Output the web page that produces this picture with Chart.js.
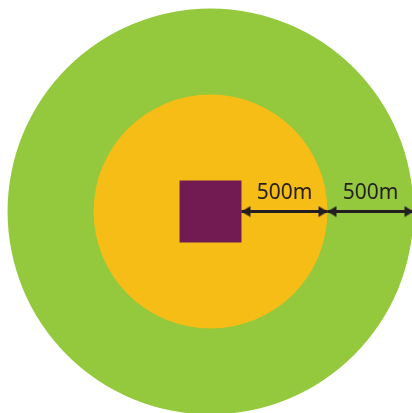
<!DOCTYPE html>
<html>
<head>
<meta charset="utf-8">
<script src="https://cdn.jsdelivr.net/npm/chart.js@4"></script>
<style>
  html, body { margin: 0; padding: 0; background: #fff; }
  #zonas { display: block; }
</style>
</head>
<body>
<canvas id="zonas" width="412" height="413"></canvas>
<script>
// distancias en metros
const siteHalf = 180;                 // medio lado del solar
const zoneWidths = [500, 500];        // anillos desde el borde del solar
const zoneLabels = ['500m', '500m'];
const zoneColors = ['#f6bd16', '#94c83d'];
const siteColor = '#721a52';
const ink = '#231f20';

const innerR = siteHalf + zoneWidths[0];
const outerR = innerR + zoneWidths[1];

// punta de flecha como imagen, con el vertice en el centro
function punta(dir) {
  const L = 10, H = 6;
  const c = document.createElement('canvas');
  c.width = L * 2; c.height = H * 2;
  const g = c.getContext('2d');
  g.fillStyle = ink;
  g.beginPath();
  if (dir > 0) { g.moveTo(L, H); g.lineTo(1, 0.5); g.lineTo(1, H * 2 - 0.5); }
  else { g.moveTo(L, H); g.lineTo(L * 2 - 1, 0.5); g.lineTo(L * 2 - 1, H * 2 - 0.5); }
  g.closePath();
  g.fill();
  return c;
}
const headL = punta(-1), headR = punta(1);

// radio en pixeles a partir de metros
const pxRadius = (r) => (ctx) => {
  const sx = ctx.chart.scales.x;
  return sx.getPixelForValue(r) - sx.getPixelForValue(0);
};

const etiquetas = {
  id: 'etiquetas',
  afterDatasetsDraw(chart) {
    const { ctx, scales } = chart;
    ctx.save();
    ctx.fillStyle = ink;
    ctx.font = '21px "Noto Sans", sans-serif';
    ctx.textAlign = 'center';
    ctx.textBaseline = 'alphabetic';
    let start = siteHalf;
    zoneWidths.forEach((w, i) => {
      const mid = scales.x.getPixelForValue(start + w / 2);
      const y = scales.y.getPixelForValue(0) - 13;
      ctx.fillText(zoneLabels[i], mid, y);
      start += w;
    });
    ctx.restore();
  }
};

let start = siteHalf;
const flechas = zoneWidths.map((w, i) => {
  const ds = {
    type: 'line',
    data: [{ x: start, y: 0 }, { x: start + w, y: 0 }],
    borderColor: ink,
    borderWidth: 3,
    pointStyle: [headL, headR],
    pointRadius: 6,
    clip: false,
    order: 0
  };
  start += w;
  return ds;
});

const ctx = document.getElementById('zonas').getContext('2d');

new Chart(ctx, {
  type: 'scatter',
  data: {
    datasets: [
      ...flechas,
      {
        data: [{ x: 0, y: 0 }],
        pointStyle: 'rect',
        pointRadius: (c) => pxRadius(siteHalf)(c) / Math.SQRT1_2,
        backgroundColor: siteColor,
        borderWidth: 0,
        clip: false,
        order: 1
      },
      {
        data: [{ x: 0, y: 0 }],
        pointStyle: 'circle',
        pointRadius: pxRadius(innerR),
        backgroundColor: zoneColors[0],
        borderWidth: 0,
        clip: false,
        order: 2
      },
      {
        data: [{ x: 0, y: 0 }],
        pointStyle: 'circle',
        pointRadius: pxRadius(outerR),
        backgroundColor: zoneColors[1],
        borderWidth: 0,
        clip: false,
        order: 3
      }
    ]
  },
  options: {
    responsive: false,
    animation: false,
    events: [],
    layout: { padding: 0, autoPadding: false },
    plugins: {
      legend: { display: false },
      tooltip: { enabled: false }
    },
    scales: {
      x: { type: 'linear', min: -1224, max: 1171.5, display: false },
      y: { type: 'linear', min: -1171.5, max: 1229.7, display: false }
    }
  },
  plugins: [etiquetas]
});
</script>
</body>
</html>
